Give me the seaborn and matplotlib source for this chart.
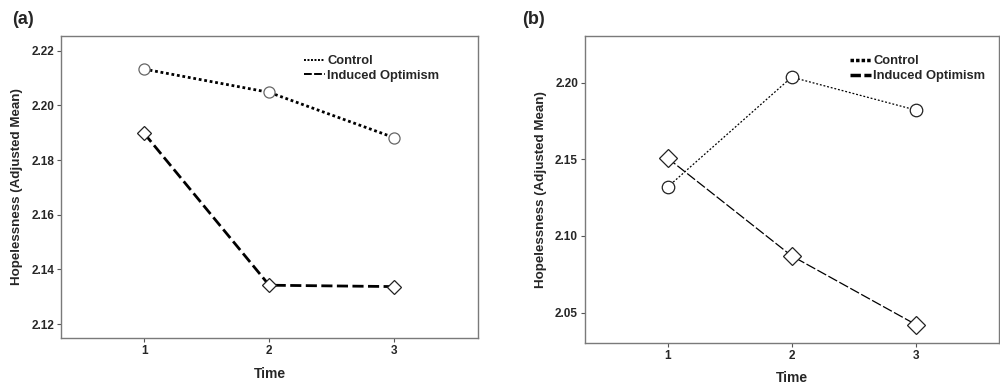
import matplotlib
matplotlib.use("Agg")
import matplotlib.pyplot as plt
from matplotlib.lines import Line2D
import seaborn as sns
import pandas as pd

sns.set_style("white")
plt.rcParams['font.family'] = ['Liberation Sans', 'DejaVu Sans']

times = [1, 2, 3]
groups = ["Control", "Induced Optimism"]

# panel (a)
a_control = [2.2133, 2.2048, 2.1882]
a_optimism = [2.1898, 2.1342, 2.1337]
a_yticks = [2.12, 2.14, 2.16, 2.18, 2.20, 2.22]

# panel (b)
b_control = [2.1319, 2.2037, 2.1822]
b_optimism = [2.1509, 2.0870, 2.0422]
b_yticks = [2.05, 2.10, 2.15, 2.20]


def make_df(control, optimism):
    rows = []
    for t, v in zip(times, control):
        rows.append({"Time": t, "Mean": v, "Group": groups[0]})
    for t, v in zip(times, optimism):
        rows.append({"Time": t, "Mean": v, "Group": groups[1]})
    return pd.DataFrame(rows)


def panel(ax, df, yticks, ylim, styles, legend_lw, leg_anchor, letter, letter_x):
    for g in groups:
        st = styles[g]
        sub = df[df.Group == g]
        sns.lineplot(data=sub, x="Time", y="Mean", ax=ax, color="black",
                     linewidth=st["lw"], linestyle=st["ls"], marker=st["marker"],
                     markersize=st["ms"], markerfacecolor="white",
                     markeredgecolor=st["mec"], markeredgewidth=0.9, legend=False)
    ax.set_xlim(0.335, 3.67)
    ax.set_ylim(*ylim)
    ax.set_xticks(times)
    ax.set_yticks(yticks)
    ax.set_yticklabels([f"{t:.2f}" for t in yticks], fontweight="bold", fontsize=8.5)
    ax.set_xticklabels([str(t) for t in times], fontweight="bold", fontsize=8.5)
    ax.set_xlabel("Time", fontweight="bold", fontsize=10, labelpad=7)
    ax.set_ylabel("Hopelessness (Adjusted Mean)", fontweight="bold", fontsize=9.6, labelpad=6)
    for s in ax.spines.values():
        s.set_color("#7a7a7a")
        s.set_linewidth(1.0)
    ax.tick_params(axis="both", which="both", direction="out", length=3,
                   width=0.8, color="#555555", left=True, bottom=True, pad=2)
    handles = [Line2D([], [], color="black", lw=legend_lw, ls=styles[g]["legls"]) for g in groups]
    ax.legend(handles, groups, loc="upper left", bbox_to_anchor=leg_anchor,
              frameon=False, handlelength=1.6, handletextpad=0.2,
              labelspacing=0.2, prop={"weight": "bold", "size": 9.3})
    fig.text(letter_x, 0.95, letter, fontweight="bold", fontsize=13, va="center")


fig = plt.figure(figsize=(10, 3.88), dpi=100)
ax1 = fig.add_axes([0.061, 0.129, 0.417, 0.778])
ax2 = fig.add_axes([0.585, 0.117, 0.414, 0.790])

styles_a = {
    "Control": {"lw": 2.0, "ls": (0, (1, 1)), "marker": "o", "ms": 8, "mec": "#666666", "legls": (0, (1, 0.8))},
    "Induced Optimism": {"lw": 2.0, "ls": (0, (4, 1.6)), "marker": "D", "ms": 7.5, "mec": "#222222", "legls": (0, (4, 1.2))},
}
styles_b = {
    "Control": {"lw": 0.9, "ls": (0, (1.5, 1.5)), "marker": "o", "ms": 9, "mec": "#222222", "legls": (0, (1, 0.6))},
    "Induced Optimism": {"lw": 0.9, "ls": (0, (8, 2)), "marker": "D", "ms": 9, "mec": "#222222", "legls": (0, (3, 1))},
}

panel(ax1, make_df(a_control, a_optimism), a_yticks, (2.1149, 2.2254), styles_a, 1.4,
      (0.555, 0.975), "(a)", 0.012)
panel(ax2, make_df(b_control, b_optimism), b_yticks, (2.0304, 2.2305), styles_b, 2.5,
      (0.612, 0.975), "(b)", 0.522)

fig.savefig("out.png", dpi=100)
